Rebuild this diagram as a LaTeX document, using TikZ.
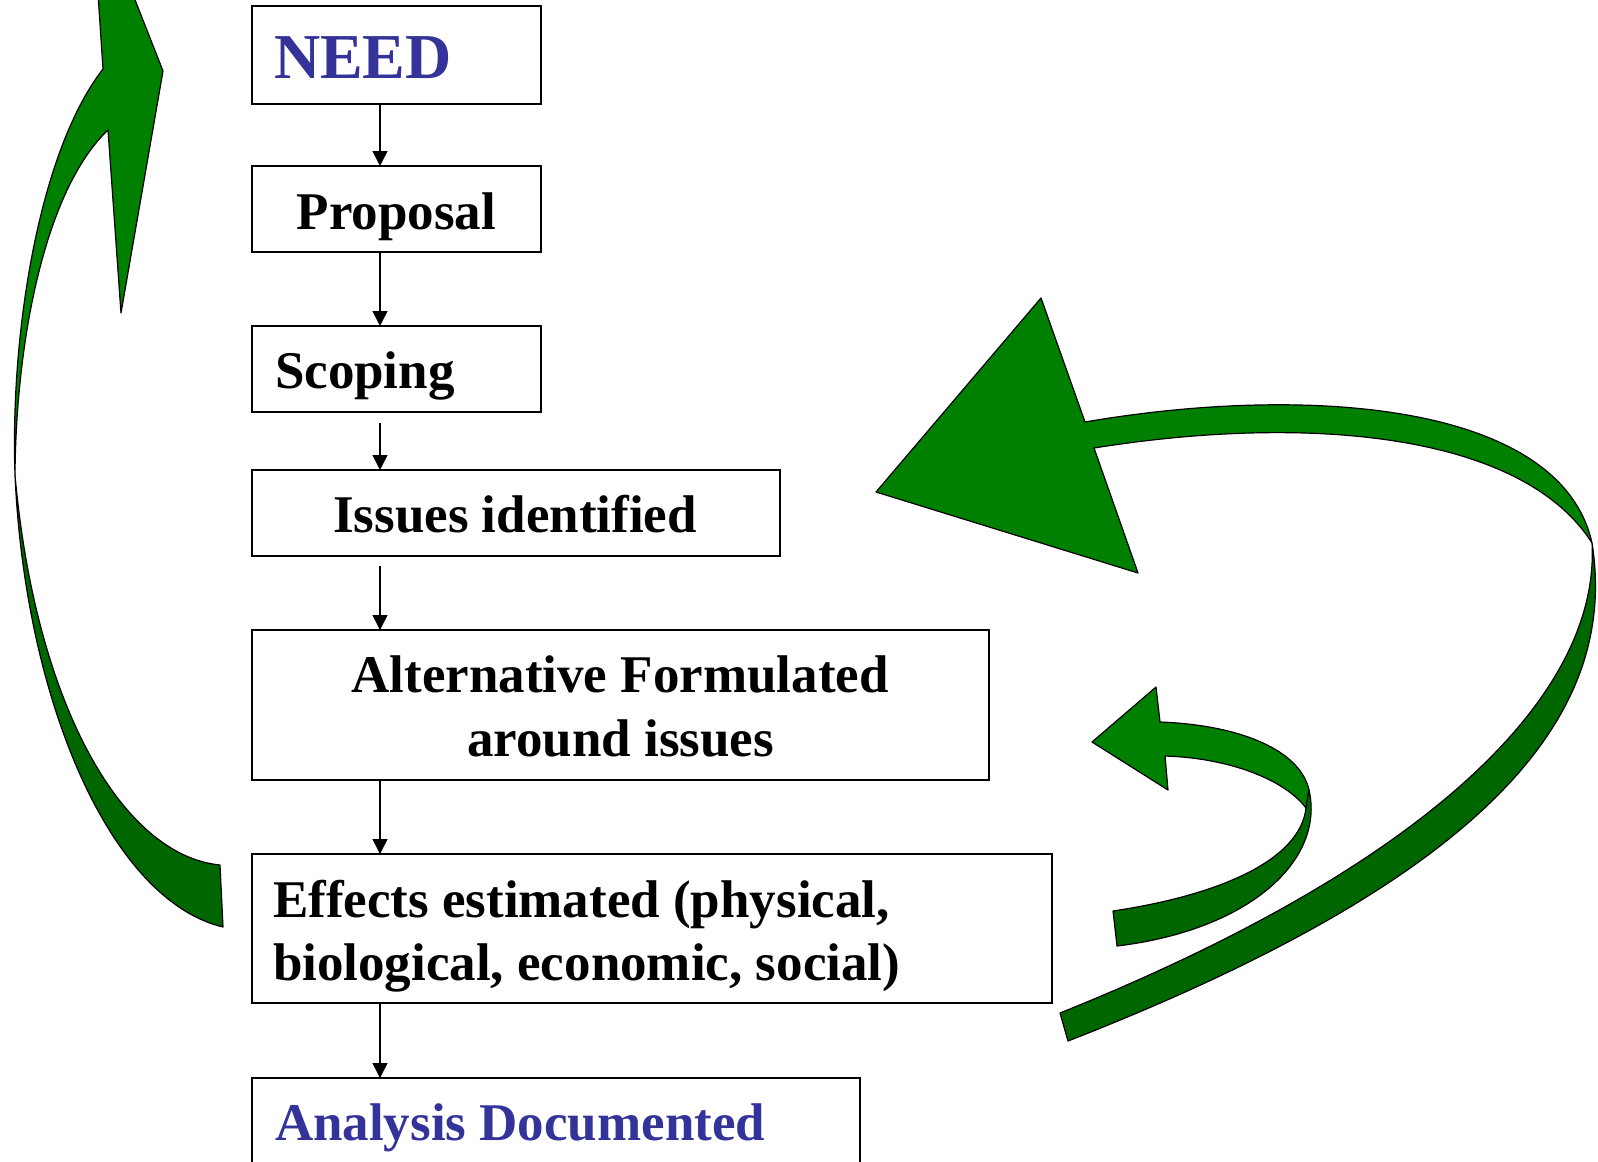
\documentclass[tikz,border=0pt]{standalone}
\usepackage{fontspec}
\setmainfont{Liberation Serif}
\usetikzlibrary{arrows.meta}
\definecolor{lgreen}{HTML}{008000}
\definecolor{dgreen}{HTML}{006600}
\definecolor{navy}{HTML}{333399}
\begin{document}
\begin{tikzpicture}[x=0.5pt, y=-0.5pt,
  box/.style={draw=black, line width=0.9pt, anchor=north west, inner sep=0pt, outer sep=0pt},
  lbl/.style={font=\bfseries\fontsize{26.5pt}{31pt}\selectfont, inner sep=0pt, outer sep=0pt},
  big/.style={font=\bfseries\fontsize{32pt}{38pt}\selectfont, inner sep=0pt, outer sep=0pt},
  conn/.style={-{Triangle[length=7.5pt,width=7.5pt]}, line width=0.75pt},
  rib/.style={draw=black, line width=0.6pt, line join=round}]
\useasboundingbox (0,0) rectangle (1598,1161);
\clip (0,0) rectangle (1598,1161);

% left ribbon arrow (up to NEED)
\filldraw[rib, fill=lgreen] (103,69) -- (91,-112) -- (163,71) -- (121,313) -- (108,130)
  .. controls (45,190) and (16,340) .. (15,475)
  .. controls (10,330) and (40,150) .. (103,69) -- cycle;
\filldraw[rib, fill=dgreen] (15,475)
  .. controls (25,700) and (110,900) .. (223,927)
  -- (220,865)
  .. controls (120,855) and (35,700) .. (15,475) -- cycle;

% big right ribbon arrow
\filldraw[rib, fill=lgreen] (1085,422) -- (1041,298) -- (876,492) -- (1138,573) -- (1094,448)
  .. controls (1300,415) and (1520,430) .. (1592,543)
  .. controls (1560,400) and (1300,385) .. (1085,422) -- cycle;
\filldraw[rib, fill=dgreen] (1592,543)
  .. controls (1620,720) and (1480,880) .. (1068,1041)
  -- (1060,1013)
  .. controls (1440,860) and (1600,690) .. (1592,543) -- cycle;

% small right ribbon arrow
\filldraw[rib, fill=lgreen] (1160,722) -- (1156,687) -- (1092,742) -- (1168,790) -- (1165,756)
  .. controls (1230,758) and (1285,780) .. (1306,808)
  -- (1309,790)
  .. controls (1300,750) and (1240,725) .. (1160,722) -- cycle;
\filldraw[rib, fill=dgreen] (1306,808) -- (1309,790)
  .. controls (1325,860) and (1250,930) .. (1117,946)
  -- (1113,911)
  .. controls (1220,895) and (1300,860) .. (1306,808) -- cycle;

% boxes
\node[box, minimum width=144.5pt, minimum height=49pt] (need) at (252,6) {};
\node[box, minimum width=144.5pt, minimum height=43pt] (prop) at (252,166) {};
\node[box, minimum width=144.5pt, minimum height=43pt] (scop) at (252,326) {};
\node[box, minimum width=264pt, minimum height=43pt] (iss) at (252,470) {};
\node[box, minimum width=368.5pt, minimum height=75pt] (alt) at (252,630) {};
\node[box, minimum width=400pt, minimum height=74.5pt] (eff) at (252,854) {};
\node[box, minimum width=304pt, minimum height=70pt] (ana) at (252,1078) {};

% texts
\node[big, anchor=base west, text=navy] (needtxt) at (274,79) {NEED};
\node[lbl, anchor=base] (proptxt) at (396.5,229) {Proposal};
\node[lbl, anchor=base west] (scoptxt) at (275,388) {Scoping};
\node[lbl, anchor=base] (isstxt) at (515,532) {Issues identified};
\node[lbl, anchor=base] (alttxtA) at (620,692) {Alternative Formulated};
\node[lbl, anchor=base] (alttxtB) at (620.5,756) {around issues};
\node[lbl, anchor=base west] (efftxtA) at (273,917) {Effects estimated (physical,};
\node[lbl, anchor=base west] (efftxtB) at (273,980) {biological, economic, social)};
\node[lbl, anchor=base west, text=navy] (anatxt) at (275,1140) {Analysis Documented};

% connectors
\coordinate (axis) at (380,0);
\draw[conn] (need.south -| axis) -- (prop.north -| axis);
\draw[conn] (prop.south -| axis) -- (scop.north -| axis);
\draw[conn, shorten <=5.5pt] (scop.south -| axis) -- (iss.north -| axis);
\draw[conn, shorten <=5pt] (iss.south -| axis) -- (alt.north -| axis);
\draw[conn] (alt.south -| axis) -- (eff.north -| axis);
\draw[conn] (eff.south -| axis) -- (ana.north -| axis);
\end{tikzpicture}
\end{document}
